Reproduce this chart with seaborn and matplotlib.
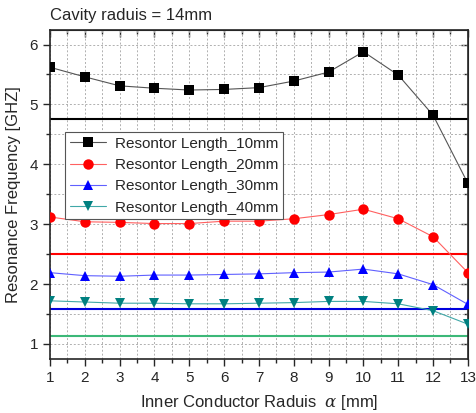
import numpy as np
import pandas as pd
import matplotlib
matplotlib.use("Agg")
import matplotlib.pyplot as plt
import seaborn as sns
from matplotlib.ticker import MultipleLocator

# datos
radius = [1, 2, 3, 4, 5, 6, 7, 8, 9, 10, 11, 12, 13]
f_10mm = [5.62, 5.46, 5.31, 5.27, 5.24, 5.25, 5.28, 5.39, 5.54, 5.88, 5.49, 4.82, 3.68]
f_20mm = [3.12, 3.04, 3.03, 3.01, 3.01, 3.05, 3.05, 3.09, 3.16, 3.25, 3.09, 2.79, 2.19]
f_30mm = [2.19, 2.14, 2.13, 2.15, 2.15, 2.16, 2.17, 2.19, 2.2, 2.25, 2.17, 1.99, 1.66]
f_40mm = [1.72, 1.70, 1.68, 1.68, 1.67, 1.67, 1.68, 1.69, 1.71, 1.71, 1.67, 1.555, 1.33]
labels = ["Resontor Length_10mm", "Resontor Length_20mm",
          "Resontor Length_30mm", "Resontor Length_40mm"]
ref_levels = [4.76, 2.5, 1.58, 1.14]

sns.set_style("ticks")
plt.rcParams['font.family'] = ['Liberation Sans', 'DejaVu Sans']
plt.rcParams['mathtext.fontset'] = 'dejavuserif'

df = pd.DataFrame({
    'radio': radius * 4,
    'freq': f_10mm + f_20mm + f_30mm + f_40mm,
    'serie': [labels[0]] * 13 + [labels[1]] * 13 + [labels[2]] * 13 + [labels[3]] * 13,
})

colores = ['black', 'red', 'blue', '#008080']
col_linea = ['#555555', '#ff6060', '#6060ff', '#40a8a8']
marcadores = ['s', 'o', '^', 'v']
lineas_ref = ['black', 'red', '#0000dd', '#3cb878']

fig = plt.figure(figsize=(4.76, 4.13), dpi=100)
ax = fig.add_axes([0.105, 0.131, 0.878, 0.796])

for i, lab in enumerate(labels):
    sub = df[df['serie'] == lab]
    sns.lineplot(data=sub, x='radio', y='freq', ax=ax, color=col_linea[i],
                 marker=marcadores[i], markersize=7.5, markeredgewidth=0,
                 markerfacecolor=colores[i],
                 linewidth=0.8, label=lab, zorder=3)

for c, lv in zip(lineas_ref, ref_levels):
    ax.axhline(lv, color=c, linewidth=1.5, zorder=2)

ax.set_xlim(1, 13)
ax.set_ylim(0.75, 6.24)
ax.xaxis.set_major_locator(MultipleLocator(1))
ax.xaxis.set_minor_locator(MultipleLocator(0.5))
ax.yaxis.set_major_locator(MultipleLocator(1))
ax.yaxis.set_minor_locator(MultipleLocator(0.5))
ax.grid(which='both', color='#b0b0b0', linestyle=(0, (2, 2)), linewidth=0.7)
ax.set_axisbelow(True)

ax.tick_params(which='both', direction='out', labelsize=11, width=1)
ax.tick_params(which='major', length=5)
ax.tick_params(which='minor', length=3)
for sp in ax.spines.values():
    sp.set_linewidth(1.2)

# ticks hacia adentro arriba y a la derecha
top = ax.secondary_xaxis('top')
top.xaxis.set_major_locator(MultipleLocator(1))
top.xaxis.set_minor_locator(MultipleLocator(0.5))
top.tick_params(which='both', direction='in', labeltop=False, width=1)
top.tick_params(which='major', length=5)
top.tick_params(which='minor', length=3)
right = ax.secondary_yaxis('right')
right.yaxis.set_major_locator(MultipleLocator(1))
right.yaxis.set_minor_locator(MultipleLocator(0.5))
right.tick_params(which='both', direction='in', labelright=False, width=1)
right.tick_params(which='major', length=5)
right.tick_params(which='minor', length=3)

ax.set_xlabel(r'Inner Conductor Raduis  $\alpha$ [mm]', fontsize=12, labelpad=6)
ax.set_ylabel('Resonance Frequency [GHZ]', fontsize=12, labelpad=6)
fig.text(0.105, 0.962, 'Cavity raduis = 14mm', fontsize=12, va='center')

leg = ax.legend(loc='upper left', bbox_to_anchor=(0.036, 0.69), fontsize=11,
                frameon=True, fancybox=False, edgecolor='#555555',
                handlelength=2.4, borderpad=0.3, labelspacing=0.48,
                handletextpad=0.6, borderaxespad=0, framealpha=1)
leg.get_frame().set_linewidth(0.8)

fig.savefig('out.png', dpi=100)
